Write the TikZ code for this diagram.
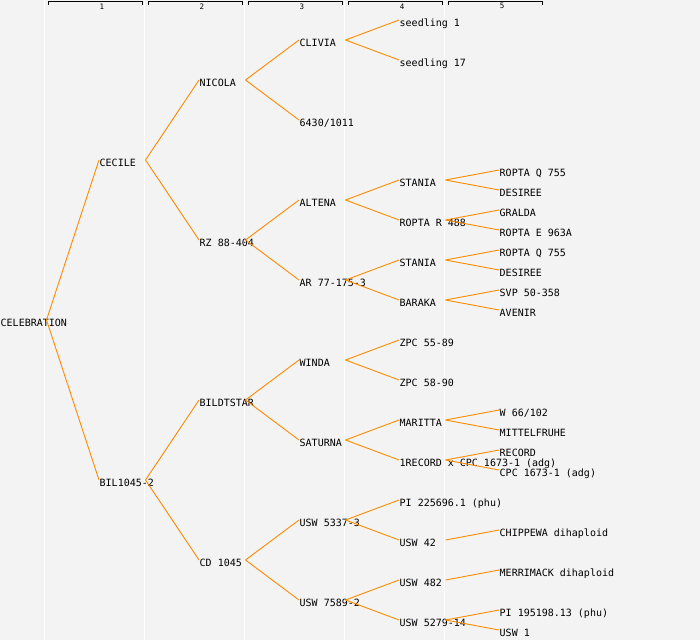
\documentclass[tikz,border=0pt]{standalone}
\usepackage{fontspec}
\setmonofont{DejaVu Sans Mono}
\definecolor{bgc}{HTML}{F3F3F3}
\definecolor{linkc}{HTML}{FF8A00}
\newcommand\tnode[4]{%
  \node[lbl] (#1) at (#2+0.5,#3+6.5) {#4};
  \coordinate (#1-i) at (#2,#3);
  \coordinate (#1-o) at (#2+46.5,#3);
}
\newcommand\hdr[2]{%
  \coordinate (h#1a) at (#2,4.5);
  \coordinate (h#1b) at (#2+94.5,4.5);
  \draw[hline] (h#1a) -- ++(0,-3) -| (h#1b);
  \node[hnum] (n#1) at (#2+54,6.3) {#1};
}
\begin{document}
\begin{tikzpicture}[x=1pt,y=-1pt,
  lbl/.style={anchor=base west,inner sep=0pt,font=\ttfamily\fontsize{10}{12}\selectfont,text=black},
  hnum/.style={inner sep=0pt,font=\ttfamily\fontsize{7.5}{9}\selectfont},
  hline/.style={draw=black,line width=0.9pt},
  link/.style={draw=linkc,line width=0.9pt},
  sep/.style={draw=white,line width=1.2pt}]
\fill[bgc] (0,0) rectangle (700,640);
\useasboundingbox (0,0) rectangle (700,640);
\foreach \k in {0,...,4}{\draw[sep] (44.6+100*\k,0) -- (44.6+100*\k,640);}
\hdr{1}{48}
\hdr{2}{148}
\hdr{3}{248}
\hdr{4}{348}
\hdr{5}{448}
% level 0
\tnode{celeb}{0}{320}{CELEBRATION}
% level 1
\tnode{cecile}{99}{160}{CECILE}
\tnode{bil}{99}{480}{BIL1045-2}
% level 2
\tnode{nicola}{199}{80}{NICOLA}
\tnode{rz}{199}{240}{RZ 88-404}
\tnode{bildt}{199}{400}{BILDTSTAR}
\tnode{cd}{199}{560}{CD 1045}
% level 3
\tnode{clivia}{299}{40}{CLIVIA}
\tnode{s6430}{299}{120}{6430/1011}
\tnode{altena}{299}{200}{ALTENA}
\tnode{ar}{299}{280}{AR 77-175-3}
\tnode{winda}{299}{360}{WINDA}
\tnode{saturna}{299}{440}{SATURNA}
\tnode{usw5337}{299}{520}{USW 5337-3}
\tnode{usw7589}{299}{600}{USW 7589-2}
% level 4
\tnode{seed1}{399}{20}{seedling 1}
\tnode{seed17}{399}{60}{seedling 17}
\tnode{staniaA}{399}{180}{STANIA}
\tnode{roptaR}{399}{220}{ROPTA R 488}
\tnode{staniaB}{399}{260}{STANIA}
\tnode{baraka}{399}{300}{BARAKA}
\tnode{zpc55}{399}{340}{ZPC 55-89}
\tnode{zpc58}{399}{380}{ZPC 58-90}
\tnode{maritta}{399}{420}{MARITTA}
\tnode{rec1}{399}{460}{1RECORD x CPC 1673-1 (adg)}
\tnode{pi225}{399}{500}{PI 225696.1 (phu)}
\tnode{usw42}{399}{540}{USW 42}
\tnode{usw482}{399}{580}{USW 482}
\tnode{usw5279}{399}{620}{USW 5279-14}
% level 5
\tnode{roptaQa}{499}{170}{ROPTA Q 755}
\tnode{desireeA}{499}{190}{DESIREE}
\tnode{gralda}{499}{210}{GRALDA}
\tnode{roptaE}{499}{230}{ROPTA E 963A}
\tnode{roptaQb}{499}{250}{ROPTA Q 755}
\tnode{desireeB}{499}{270}{DESIREE}
\tnode{svp}{499}{290}{SVP 50-358}
\tnode{avenir}{499}{310}{AVENIR}
\tnode{w66}{499}{410}{W 66/102}
\tnode{mittel}{499}{430}{MITTELFRUHE}
\tnode{record}{499}{450}{RECORD}
\tnode{cpc}{499}{470}{CPC 1673-1 (adg)}
\tnode{chip}{499}{530}{CHIPPEWA dihaploid}
\tnode{merri}{499}{570}{MERRIMACK dihaploid}
\tnode{pi195}{499}{610}{PI 195198.13 (phu)}
\tnode{usw1}{499}{630}{USW 1}
% connectors
\foreach \p/\c in {celeb/cecile,celeb/bil,
  cecile/nicola,cecile/rz,bil/bildt,bil/cd,
  nicola/clivia,nicola/s6430,rz/altena,rz/ar,bildt/winda,bildt/saturna,cd/usw5337,cd/usw7589,
  clivia/seed1,clivia/seed17,altena/staniaA,altena/roptaR,ar/staniaB,ar/baraka,
  winda/zpc55,winda/zpc58,saturna/maritta,saturna/rec1,usw5337/pi225,usw5337/usw42,
  usw7589/usw482,usw7589/usw5279,
  staniaA/roptaQa,staniaA/desireeA,roptaR/gralda,roptaR/roptaE,staniaB/roptaQb,staniaB/desireeB,
  baraka/svp,baraka/avenir,maritta/w66,maritta/mittel,rec1/record,rec1/cpc,
  usw42/chip,usw482/merri,usw5279/pi195,usw5279/usw1}
  {\draw[link] (\p-o) -- (\c-i);}
\end{tikzpicture}
\end{document}
